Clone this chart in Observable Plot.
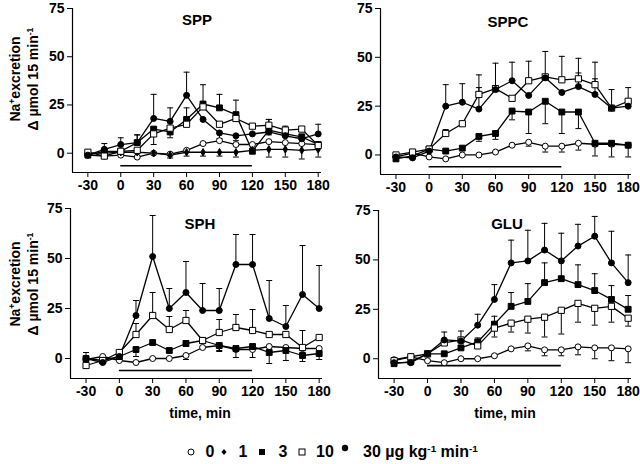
<!DOCTYPE html>
<html><head><meta charset="utf-8">
<script src="https://cdn.jsdelivr.net/npm/d3@7"></script>
<script src="https://cdn.jsdelivr.net/npm/@observablehq/plot@0.6"></script>
<style>
body{margin:0;background:#fff;}
#root{position:relative;width:640px;height:464px;font-family:"Liberation Sans",Arial,sans-serif;font-weight:bold;color:#000;overflow:hidden;background:#fff}
.abs{position:absolute;white-space:nowrap}
.ttl{font-size:15px;transform:translate(-50%,-50%)}
.ylab{font-size:14px;transform:translate(-50%,-50%) rotate(-90deg)}
.xlab{font-size:14px;transform:translate(-50%,-50%)}
.leg{font-size:16px;transform:translate(-50%,-50%)}
sup{font-size:0.62em;vertical-align:0.55em;line-height:0}
</style></head><body><div id="root"></div>
<script>
// ---- data ----
const times = [-30, -15, 0, 15, 30, 45, 60, 75, 90, 105, 120, 135, 150, 165, 180];
const xTicks = [-30, 0, 30, 60, 90, 120, 150, 180];
const yTicks = [0, 25, 50, 75];
const doses = ["0", "1", "3", "10", "30"];
const panelNames = ["SPP", "SPPC", "SPH", "GLU"];
const infusion = [0, 120];

const SPP_0 = [-1, -1.5, -1, -2, 0, -0.5, 1.5, 5, 6.5, 4.5, 4.5, 6, 5.5, 5, 4.5];
const SPP_0_err = [0, 0, 0, 0, 0, -2, 0, 0, 0, 0, 0, 0, 0, 0, 0];
const SPP_1 = [0, 0, 0.5, 0.5, 0, -1, 0.5, 0.5, 0.5, 0.5, 1.5, 2, 2, 1.5, 2];
const SPP_1_err = [0, 0, 0, 0, 0, 0, -2, -2, -2, -2.5, 0, -4, -4, -4.5, -4];
const SPP_3 = [-1, 1, 1, 5.5, 12.5, 11, 17.5, 25.5, 23.5, 20, 1, 12, 10, 8.5, 4.5];
const SPP_3_err = [0, 0, 0, 4, 0, -3, 6, 10, 7, 7.5, 0, -2.5, 0, -3, 0];
const SPP_10 = [0.5, -1.5, 1, 1.5, 10, 13, 15, 24, 15, 18, 14, 14.5, 12, 12.5, 4];
const SPP_10_err = [0, 0, 0, 0, -5.5, 0, 0, 0, 0, 0, 0, 3, 2, 0, 0];
const SPP_30 = [-1, 2, 4.5, 5.5, 18, 16.5, 30, 17.5, 10.5, 9, 10, 11, 9, 7.5, 10];
const SPP_30_err = [0, 3, 3.5, 4, 12.5, 7, 12, 0, -3, -2.5, 0, 6.5, 2.5, 0, 5];

const SPPC_0 = [-1, 1, -1, -2, 0, 0, 1.5, 5, 6.5, 4.5, 4.5, 6, 5.5, 5.5, 5];
const SPPC_0_err = [0, 0, 0, 0, 0, 0, 0, 0, -2, -3, -3, -3.5, 0, 0, -6];
const SPPC_3 = [-2, -0.5, 3, 2, 3.5, 9.5, 11, 22.5, 22, 27.5, 22, 22, 6, 6, 5];
const SPPC_3_err = [0, 0, 0, 0, 0, -2.5, -3, -4.5, -11, -11.5, -11, -8.5, -6.5, -7, 0];
const SPPC_10 = [0, 1.5, 3, 11, 16, 31, 34, 29, 38, 40, 38.5, 39, 36, 24, 27.5];
const SPPC_10_err = [0, 0, 0, 2, 0, 10, 13, 0, 10, 13, 12, 10.5, 11.5, 9.5, 7];
const SPPC_30 = [-1, -1.5, 2, 25, 27, 23.5, 33.5, 38, 30.5, 39.5, 32, 35, 31, 24, 25];
const SPPC_30_err = [0, 0, 0, 11, 9.5, 11, 0, 9.5, 0, 0, 0, 7, 8, 0, 0];

const SPH_0 = [-0.5, 1, -1, -2, 0, 0, 1.5, 5.5, 6.5, 4.5, 4.5, 6, 5.5, 5, 5];
const SPH_0_err = [0, 0, 0, 0, 0, 0, -2, 0, -2.5, -4, -4, 0, 0, 0, 0];
const SPH_3 = [0, -1, 1, 4.5, 8, 4, 7.5, 9, 6.5, 5, 6, 3, 4, 1.5, 2.5];
const SPH_3_err = [0, 0, 0, -3.5, 0, 0, 0, 0, -3, 0, 0, -5.5, -5, -3, -3];
const SPH_10 = [-3.5, -1, 3, 12, 21.5, 14.5, 19, 9, 13, 15.5, 14, 12, 12, 5.5, 10.5];
const SPH_10_err = [0, 0, 0, 5.5, 11.5, 6.5, 5, 0, 6.5, 6.5, 10.5, 0, 0, 8.5, 0];
const SPH_30 = [0, -2, 1, 21.5, 51, 25, 33, 24, 24, 47, 47, 20, 16, 32, 25];
const SPH_30_err = [3, 0, 0, 7.5, 20.5, 10, 15.5, 13.5, 11, 15, 15, 19, 10.5, 24.5, 21.5];

const GLU_0 = [-0.5, 1, -1, -2, 0, 0, 1.5, 5, 6.5, 4.5, 4.5, 6, 5.5, 5.5, 5];
const GLU_0_err = [0, 0, 0, 0, 0, 0, 0, 0, -2.5, -3, -3, -4, -5.5, -6.5, -7];
const GLU_3 = [-2.5, -1.5, 2.5, 2.5, 5.5, 8.5, 17.5, 26.5, 29, 38.5, 40.5, 37.5, 34.5, 30, 25];
const GLU_3_err = [0, 0, 0, 0, 0, 2, 4, 7, 9, 10, 9, 10, 8.5, 7, 7];
const GLU_10 = [-1, 1, 2.5, 8, 9.5, 6.5, 15.5, 18, 20, 21, 24.5, 28, 25.5, 26.5, 20.5];
const GLU_10_err = [0, 0, 0, 0, 0, 0, -4.5, -4.5, -7, -10, -12, -9.5, -8.5, -8, -4];
const GLU_30 = [-2, -2, 2.5, 9.5, 9, 17, 30, 48.5, 49.5, 55, 49.5, 57, 62, 48.5, 38.5];
const GLU_30_err = [0, 0, 0, 4, 5, 5.5, 7.5, 11.5, 15.5, 13.5, 14, 11, 10, 16, 14];

// ---- styles / layout ----
const doseStyle = {
  "0":  {symbol: "circle", fill: "white", r: 3},
  "1":  {symbol: "diamond", fill: "black", r: 2.3},
  "3":  {symbol: "square", fill: "black", r: 3.3},
  "10": {symbol: "square", fill: "white", r: 3.5},
  "30": {symbol: "circle", fill: "black", r: 3}
};
const capSymbol = {draw(ctx, size) { const w = Math.sqrt(size / Math.PI); ctx.moveTo(-w, 0); ctx.lineTo(w, 0); }};
const xDomain = [-44, 183];
const yDomain = [-10, 75];

const panels = [
  {name: "SPP", series: [["0", SPP_0, SPP_0_err], ["1", SPP_1, SPP_1_err], ["3", SPP_3, SPP_3_err], ["10", SPP_10, SPP_10_err], ["30", SPP_30, SPP_30_err]],
   barY: -6.5, left: 0, top: 0, width: 322, height: 200, mL: 72, mR: 1, mT: 8, mB: 28, title: [197, 19]},
  {name: "SPPC", series: [["0", SPPC_0, SPPC_0_err], ["3", SPPC_3, SPPC_3_err], ["10", SPPC_10, SPPC_10_err], ["30", SPPC_30, SPPC_30_err]],
   barY: -6, left: 320, top: 0, width: 320, height: 200, mL: 60, mR: 9, mT: 8, mB: 26, title: [508, 21]},
  {name: "SPH", series: [["0", SPH_0, SPH_0_err], ["3", SPH_3, SPH_3_err], ["10", SPH_10, SPH_10_err], ["30", SPH_30, SPH_30_err]],
   barY: -6, left: 0, top: 200, width: 324, height: 210, mL: 70, mR: 2, mT: 8, mB: 32, title: [200, 223]},
  {name: "GLU", series: [["0", GLU_0, GLU_0_err], ["3", GLU_3, GLU_3_err], ["10", GLU_10, GLU_10_err], ["30", GLU_30, GLU_30_err]],
   barY: -3.5, left: 320, top: 200, width: 320, height: 210, mL: 58, mR: 9, mT: 10, mB: 32, title: [507, 223]}
];

const root = document.getElementById("root");
function addDiv(html, cls, x, y) {
  const d = document.createElement("div");
  d.className = "abs " + cls;
  d.style.left = x + "px"; d.style.top = y + "px";
  d.innerHTML = html;
  root.appendChild(d);
  return d;
}

for (const p of panels) {
  const rows = [], errs = [];
  for (const [dose, vals, err] of p.series) {
    vals.forEach((v, i) => {
      rows.push({t: times[i], v, dose});
      if (err[i]) errs.push({t: times[i], v, e: v + err[i], dose});
    });
  }
  const marks = [
    Plot.ruleX([xDomain[0]], {stroke: "black", strokeWidth: 1.2}),
    Plot.ruleY([yDomain[0]], {stroke: "black", strokeWidth: 1.2}),
    Plot.axisX({ticks: xTicks, tickSize: 5, tickPadding: 3, tickFormat: d => String(d), fontSize: 14, fontWeight: "bold", label: null}),
    Plot.axisY({ticks: yTicks, tickSize: 5, tickPadding: 3, tickFormat: d => String(d), fontSize: 14, fontWeight: "bold", label: null}),
    Plot.ruleY([{x1: infusion[0], x2: infusion[1], y: p.barY}], {x1: "x1", x2: "x2", y: "y", stroke: "black", strokeWidth: 1.6}),
    Plot.ruleX(errs, {x: "t", y1: "v", y2: "e", stroke: "black", strokeWidth: 1}),
    Plot.dot(errs, {x: "t", y: "e", symbol: capSymbol, r: 3, stroke: "black", strokeWidth: 1}),
    Plot.lineY(rows, {x: "t", y: "v", z: "dose", stroke: "black", strokeWidth: 1.3})
  ];
  for (const [dose] of p.series) {
    const s = doseStyle[dose];
    marks.push(Plot.dot(rows.filter(r => r.dose === dose), {x: "t", y: "v", symbol: s.symbol, r: s.r, fill: s.fill, stroke: "black", strokeWidth: 1}));
  }
  const svg = Plot.plot({
    width: p.width, height: p.height,
    marginLeft: p.mL, marginRight: p.mR, marginTop: p.mT, marginBottom: p.mB,
    x: {domain: xDomain, axis: null},
    y: {domain: yDomain, axis: null},
    style: {background: "transparent", overflow: "visible", fontFamily: "'Liberation Sans', Arial, sans-serif", fontWeight: "bold", fontSize: "14px", color: "black"},
    marks
  });
  svg.style.position = "absolute";
  svg.style.left = p.left + "px";
  svg.style.top = p.top + "px";
  svg.style.maxWidth = "none";
  root.appendChild(svg);
  addDiv(p.name, "ttl", p.title[0], p.title[1]);
}

// y axis titles
addDiv("Na<sup>+</sup>excretion", "ylab", 15, 79);
addDiv("&Delta; &micro;mol 15 min<sup>-1</sup>", "ylab", 33, 79);
addDiv("Na<sup>+</sup>excretion", "ylab", 15, 284);
addDiv("&Delta; &micro;mol 15 min<sup>-1</sup>", "ylab", 33, 284);
// x axis titles
addDiv("time, min", "xlab", 200, 413);
addDiv("time, min", "xlab", 505, 413);

// legend
const legendSym = {
  "0": '<svg width="10" height="10"><circle cx="5" cy="5" r="3" fill="white" stroke="black" stroke-width="1"/></svg>',
  "1": '<svg width="10" height="10"><path d="M5,2L7.5,5L5,8L2.5,5Z" fill="black"/></svg>',
  "3": '<svg width="10" height="10"><rect x="2" y="2" width="6" height="6" fill="black"/></svg>',
  "10": '<svg width="10" height="10"><rect x="2" y="2" width="6" height="6" fill="white" stroke="black" stroke-width="1"/></svg>',
  "30": '<svg width="10" height="10"><circle cx="5" cy="5" r="3.2" fill="black"/></svg>'
};
const legSymX = [191, 224, 262, 302, 345];
const legTxtX = [210, 243, 283, 325, 0];
doses.forEach((d, i) => {
  const s = addDiv(legendSym[d], "leg", legSymX[i], i === 4 ? 448 : 452);
  s.style.lineHeight = "0";
  if (i < 4) addDiv(d, "leg", legTxtX[i], 452);
});
const last = addDiv(doses[4] + " &micro;g kg<sup>-1</sup> min<sup>-1</sup>", "leg", 363, 452);
last.style.transform = "translate(0,-50%)";
</script></body></html>
